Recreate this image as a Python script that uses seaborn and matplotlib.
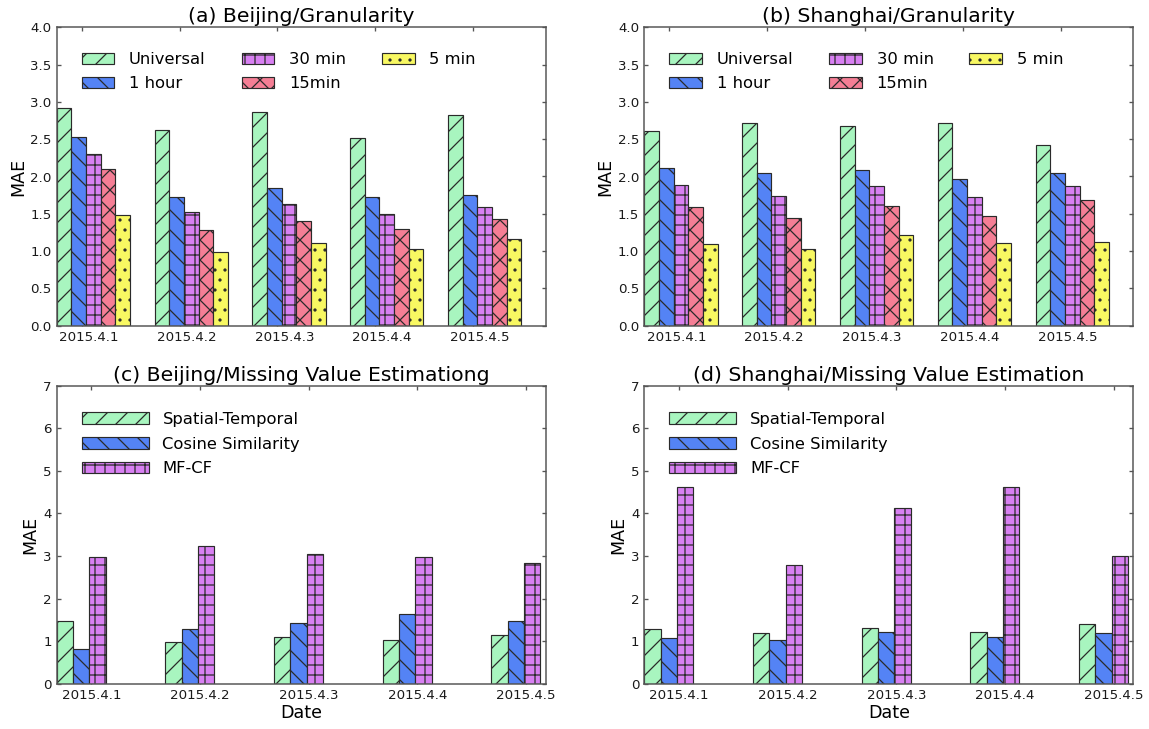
import numpy as np
import pandas as pd
import matplotlib
matplotlib.use("Agg")
import matplotlib.pyplot as plt
import matplotlib.transforms as mtransforms
import seaborn as sns

# ---- data -------------------------------------------------------------
dates = ["2015.4.1", "2015.4.2", "2015.4.3", "2015.4.4", "2015.4.5"]

granularity_levels = ["Universal", "1 hour", "30 min", "15min", "5 min"]
beijing_universal = [2.92, 2.62, 2.86, 2.51, 2.82]
beijing_1hour = [2.53, 1.73, 1.85, 1.73, 1.75]
beijing_30min = [2.30, 1.52, 1.63, 1.50, 1.59]
beijing_15min = [2.10, 1.28, 1.41, 1.29, 1.43]
beijing_5min = [1.48, 0.99, 1.11, 1.03, 1.16]

shanghai_universal = [2.61, 2.72, 2.68, 2.72, 2.42]
shanghai_1hour = [2.12, 2.05, 2.09, 1.97, 2.05]
shanghai_30min = [1.89, 1.74, 1.87, 1.72, 1.87]
shanghai_15min = [1.59, 1.45, 1.60, 1.47, 1.68]
shanghai_5min = [1.09, 1.03, 1.22, 1.11, 1.12]

estimation_methods = ["Spatial-Temporal", "Cosine Similarity", "MF-CF"]
beijing_st = [1.48, 0.98, 1.10, 1.03, 1.15]
beijing_cos = [0.81, 1.30, 1.44, 1.65, 1.47]
beijing_mfcf = [2.97, 3.23, 3.06, 2.98, 2.83]

shanghai_st = [1.30, 1.19, 1.31, 1.21, 1.40]
shanghai_cos = [1.08, 1.03, 1.21, 1.10, 1.19]
shanghai_mfcf = [4.61, 2.79, 4.12, 4.61, 3.00]

# ---- style ------------------------------------------------------------
colors = ["#a8f5bf", "#5483f5", "#d880f2", "#f57e95", "#f8f862"]
hatches = ["//", "\\\\", "++", "xx", ".."]

sns.set_style("ticks")
plt.rcParams.update({
    "font.family": ["DejaVu Sans"],
    "hatch.linewidth": 0.75,
    "hatch.color": "black",
    "text.color": "black",
    "axes.labelcolor": "black",
    "axes.edgecolor": "#555555",
    "axes.linewidth": 0.9,
    "xtick.color": "#555555",
    "ytick.color": "#555555",
    "xtick.labelcolor": "#1a1a1a",
    "ytick.labelcolor": "#1a1a1a",
})

DPI = 120
BAR_W = 0.15


def long_frame(series, levels):
    rows = []
    for level, values in zip(levels, series):
        for d, v in zip(dates, values):
            rows.append({"Date": d, "Method": level, "MAE": v})
    return pd.DataFrame(rows)


def draw_panel(ax, series, levels, title, span, tick_shift, label_px,
               ymax, yticks, legend_kw, xlabel=None):
    df = long_frame(series, levels)
    n = len(levels)
    sns.barplot(data=df, x="Date", y="MAE", hue="Method", order=dates,
                hue_order=levels, palette=colors[:n], width=BAR_W * n,
                saturation=1, errorbar=None, edgecolor="#2a2a2a",
                linewidth=0.7, legend=False, ax=ax)
    for cont, h in zip(ax.containers, hatches):
        for p in cont.patches:
            p.set_hatch(h)

    start = -BAR_W * n / 2
    ax.set_xlim(start, start + span)
    ax.set_ylim(0, ymax)
    ax.set_yticks(yticks)
    ticks = np.arange(len(dates)) + start + tick_shift
    ax.set_xticks(ticks)
    ax.set_xticklabels(dates, fontsize=8)
    ax.tick_params(axis="y", labelsize=8)
    ax.tick_params(direction="in", top=True, right=True, length=2.4,
                   width=0.8, pad=3)
    if label_px:
        off = mtransforms.ScaledTranslation(label_px / DPI, 0,
                                            ax.figure.dpi_scale_trans)
        for lab in ax.get_xticklabels():
            lab.set_transform(lab.get_transform() + off)
    for s in ax.spines.values():
        s.set_visible(True)

    ax.set_title(title, fontsize=12.2, pad=3)
    ax.set_ylabel("MAE", fontsize=10.5, labelpad=2)
    ax.set_xlabel(xlabel if xlabel else "", fontsize=10.5, labelpad=1)

    ax.legend(handles=ax.containers[:n], labels=levels, frameon=False,
              fontsize=9.8, loc="upper left", borderpad=0,
              borderaxespad=0, **legend_kw)


fig = plt.figure(figsize=(1149 / DPI, 729 / DPI), dpi=DPI)
W, H = 489 / 1149, 298.4 / 729
ax_a = fig.add_axes([56.7 / 1149, 1 - 325.7 / 729, W, H])
ax_b = fig.add_axes([644.3 / 1149, 1 - 325.7 / 729, W, H])
ax_c = fig.add_axes([56.7 / 1149, 1 - 684 / 729, W, H])
ax_d = fig.add_axes([644.3 / 1149, 1 - 684 / 729, W, H])

top_legend = dict(ncol=3, handlelength=2.0, handleheight=0.7,
                  handletextpad=0.9, columnspacing=2.2, labelspacing=0.55,
                  bbox_to_anchor=(0.051, 0.917))
bottom_legend = dict(ncol=1, handlelength=4.1, handleheight=0.7,
                     handletextpad=0.85, labelspacing=0.6,
                     bbox_to_anchor=(0.051, 0.912))

g_ticks = np.arange(0, 4.01, 0.5)
m_ticks = np.arange(0, 8, 1)

draw_panel(ax_a, [beijing_universal, beijing_1hour, beijing_30min,
                  beijing_15min, beijing_5min],
           granularity_levels, "(a) Beijing/Granularity", 5.0, 0.256, 7,
           4.0, g_ticks, top_legend)
draw_panel(ax_b, [shanghai_universal, shanghai_1hour, shanghai_30min,
                  shanghai_15min, shanghai_5min],
           granularity_levels, "(b) Shanghai/Granularity", 5.0, 0.256, 7,
           4.0, g_ticks, top_legend)
draw_panel(ax_c, [beijing_st, beijing_cos, beijing_mfcf],
           estimation_methods, "(c) Beijing/Missing Value Estimationg", 4.5,
           0.32, 0, 7, m_ticks, bottom_legend, xlabel="Date")
draw_panel(ax_d, [shanghai_st, shanghai_cos, shanghai_mfcf],
           estimation_methods, "(d) Shanghai/Missing Value Estimation", 4.5,
           0.32, 0, 7, m_ticks, bottom_legend, xlabel="Date")

fig.savefig("out.png", dpi=DPI, facecolor="white")
